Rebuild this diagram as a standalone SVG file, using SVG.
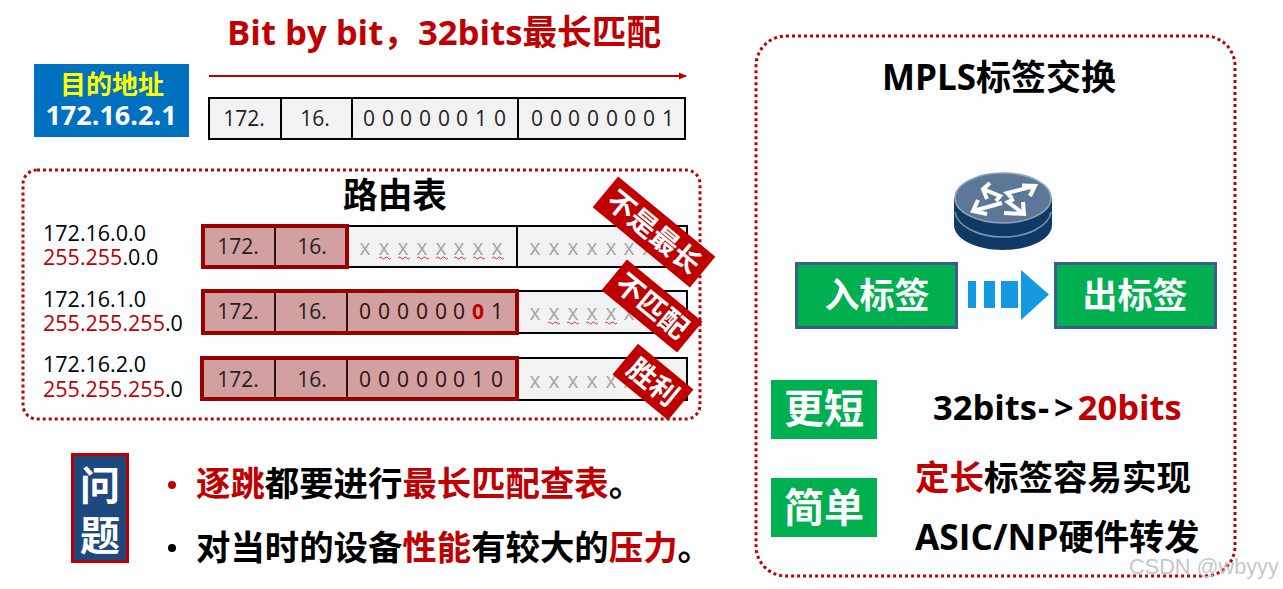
<svg xmlns="http://www.w3.org/2000/svg" width="1283" height="589" viewBox="0 0 1283 589">
<style>
text{font-family:"Open Sans","Noto Sans CJK SC",sans-serif;fill:#000}
.b{font-weight:700}.r{fill:#C00000}.w{fill:#fff}.m{text-anchor:middle}
.cell{font-size:21px;fill:#222;text-anchor:middle}
.hit{font-size:21px;fill:#2e0f0f;text-anchor:middle}
.x{font-size:21px;fill:#A6A6A6;text-anchor:middle}
.ip{font-size:21.500px}
.c{fill:#F2F2F2;stroke:#000;stroke-width:2}
.h{fill:#D2A0A0;stroke:#2e0f0f;stroke-width:2}
.hb{fill:none;stroke:#990000;stroke-width:4}
.panel{fill:#FCFDFF;stroke:#C00000;stroke-width:3;stroke-dasharray:3 3}
.tag{fill:#C00000}
.sq{fill:none;stroke:#E03030;stroke-width:1}
.lab{fill:#00B050;stroke:#3B5E8C;stroke-width:3}
.g{fill:#00B050}
</style>
<defs>
<marker id="ah" markerWidth="8" markerHeight="8" refX="7" refY="4" orient="auto" markerUnits="userSpaceOnUse"><path d="M0 0.500L8 4L0 7.500z" fill="#C00000"/></marker>
<path id="sq" class="sq" d="M0 0q1.500 -2 3 0t3 0t3 0t3 0"/>
</defs>
<rect width="1283" height="589" fill="#fff"/>

<g id="title"><text class="b r" x="227" y="45" font-size="34.700">Bit by bit，32bits最长匹配</text></g>

<g id="dest">
<rect x="34" y="64" width="155" height="73" fill="#0070C0"/>
<text class="b m" x="112" y="94" font-size="26" style="fill:#FFFF00">目的地址</text>
<text class="b m w" x="111" y="125" font-size="27">172.16.2.1</text>
</g>

<g id="connectors">
<line x1="209" y1="76" x2="686" y2="76" stroke="#C00000" stroke-width="2" marker-end="url(#ah)"/>
</g>

<g id="address-bits">
<rect class="c" x="209" y="98" width="72" height="41"/><rect class="c" x="281" y="98" width="71" height="41"/><rect class="c" x="352" y="98" width="166" height="41"/><rect class="c" x="518" y="98" width="167" height="41"/>
<text class="cell" x="244" y="126">172.</text><text class="cell" x="315" y="126">16.</text>
<text class="cell" x="369 388 406 425 444 462 481 500" y="126">00000010</text>
<text class="cell" x="537 556 574 593 612 630 649 668" y="126">00000001</text>
</g>

<g id="routing-table">
<rect class="panel" x="23" y="170" width="677" height="249" rx="14"/>
<text class="b m" x="395" y="208" font-size="34.700">路由表</text>
<g id="route-1">
<text class="ip" x="43" y="241">172.16.0.0</text>
<text class="ip" x="43" y="265"><tspan class="r">255.255</tspan>.0.0</text>
<rect class="c" x="347" y="226" width="170" height="41"/><rect class="c" x="517" y="226" width="170" height="41"/>
<rect class="h" x="203" y="226" width="72" height="41"/><rect class="h" x="275" y="226" width="72" height="41"/>
<rect class="hb" x="203" y="226" width="144" height="41"/>
<text class="cell" x="238" y="254">172.</text><text class="cell" x="312" y="254">16.</text>
<text class="x" x="365 384 403 422 441 459 478 497" y="255">xxxxxxxx</text>
<text class="x" x="535 554 573 592 611 629 648 667" y="255">xxxxxxxx</text>
<use href="#sq" x="379" y="258"/><use href="#sq" x="398" y="258"/><use href="#sq" x="417" y="258"/><use href="#sq" x="436" y="258"/><use href="#sq" x="454" y="258"/><use href="#sq" x="473" y="258"/><use href="#sq" x="492" y="258"/>
</g>
<g id="route-2">
<text class="ip" x="43" y="307">172.16.1.0</text>
<text class="ip" x="43" y="331"><tspan class="r">255.255.255</tspan>.0</text>
<rect class="c" x="517" y="291" width="170" height="42"/>
<rect class="h" x="203" y="291" width="72" height="42"/><rect class="h" x="275" y="291" width="72" height="42"/><rect class="h" x="347" y="291" width="170" height="42"/>
<rect class="hb" x="203" y="291" width="314" height="42"/>
<text class="cell" x="238" y="319">172.</text><text class="cell" x="312" y="319">16.</text>
<text class="hit" x="365 384 403 422 441 459" y="319">000000</text>
<text class="b m r" x="478" y="319" font-size="21">0</text>
<text class="hit" x="497" y="319">1</text>
<text class="x" x="535 554 573 592 611 629" y="320">xxxxxx</text>
<use href="#sq" x="548" y="323"/><use href="#sq" x="567" y="323"/><use href="#sq" x="586" y="323"/><use href="#sq" x="605" y="323"/>
</g>
<g id="route-3">
<text class="ip" x="43" y="372">172.16.2.0</text>
<text class="ip" x="43" y="397"><tspan class="r">255.255.255</tspan>.0</text>
<rect class="c" x="517" y="358" width="170" height="42"/>
<rect class="h" x="202" y="358" width="73" height="42"/><rect class="h" x="275" y="358" width="72" height="42"/><rect class="h" x="347" y="358" width="170" height="42"/>
<rect class="hb" x="202" y="358" width="315" height="41"/>
<text class="cell" x="238" y="387">172.</text><text class="cell" x="312" y="387">16.</text>
<text class="hit" x="365 384 403 422 441 459 478 497" y="387">00000010</text>
<text class="x" x="535 554 573 592 611 629" y="388">xxxxxx</text>
</g>
<g id="tag-1" transform="translate(654 232) rotate(39.500)"><rect class="tag" x="-63" y="-20" width="126" height="40"/><text class="b m w" x="0" y="10" font-size="28">不是最长</text></g>
<g id="tag-2" transform="translate(652 306) rotate(39.500)"><rect class="tag" x="-49" y="-20" width="98" height="40"/><text class="b m w" x="0" y="10" font-size="28">不匹配</text></g>
<g id="tag-3" transform="translate(653 382) rotate(39.500)"><rect class="tag" x="-36" y="-20" width="72" height="40"/><text class="b m w" x="0" y="10" font-size="28">胜利</text></g>
</g>

<g id="problem">
<rect x="72.500" y="454.500" width="55" height="107" fill="#1F497D" stroke="#C00000" stroke-width="3"/>
<text class="b m w" x="100" y="500" font-size="40">问</text>
<text class="b m w" x="100" y="550" font-size="40">题</text>
<circle cx="172" cy="485" r="4" fill="#C00000"/>
<circle cx="172" cy="548" r="4" fill="#000"/>
<text class="b" x="196" y="496" font-size="34.400"><tspan class="r">逐跳</tspan>都要进行<tspan class="r">最长匹配查表</tspan>。</text>
<text class="b" x="196" y="560" font-size="34.400">对当时的设备<tspan class="r">性能</tspan>有较大的<tspan class="r">压力</tspan>。</text>
</g>

<g id="mpls">
<rect class="panel" x="756" y="36" width="479" height="540" rx="30"/>
<text class="b m" x="999" y="90" font-size="35">MPLS标签交换</text>
<g id="router">
<path d="M954 198V225C954 239 976 250 1003 250S1052 239 1052 225V198z" fill="#0F3A66"/>
<path d="M955 212C957 226 978 237 1003 237S1049 226 1051 212" fill="none" stroke="#7E96B0" stroke-width="1.500"/>
<ellipse cx="1003" cy="198" rx="48" ry="25" fill="#5C7797" stroke="#8FA5BC" stroke-width="1.500"/>
<g fill="none" stroke="#fff" stroke-width="4">
<path d="M1022 185.500L1035 186L1030 196M1035 186L1007 193L1012 198"/>
<path d="M990 183L983 189L987 199M983 189L1000 196L996 201"/>
<path d="M978 200L973 211L987 214M973 211L1002 203"/>
<path d="M1023 202L1024 214L1004 213M1024 214L1008 202L1014 199"/>
</g>
</g>
<g id="in-label"><rect class="lab" x="796.500" y="263.500" width="160" height="64"/><text class="b m w" x="877" y="308" font-size="35">入标签</text></g>
<g id="flow-arrow" fill="#1599E0"><rect x="968" y="281" width="8" height="27"/><rect x="984" y="281" width="11" height="27"/><rect x="1001" y="281" width="17" height="27"/><path d="M1021 270L1049 294.500L1021 320z"/></g>
<g id="out-label"><rect class="lab" x="1055.500" y="263.500" width="160" height="64"/><text class="b m w" x="1135" y="308" font-size="35">出标签</text></g>
<g id="shorter"><rect class="g" x="771" y="380" width="106" height="59"/><text class="b m w" x="824" y="423" font-size="40">更短</text></g>
<text class="b" x="933" y="420" font-size="34.500">32bits<tspan dx="1">-</tspan><tspan dx="5">&gt;</tspan><tspan class="r" dx="4">20bits</tspan></text>
<g id="simple"><rect class="g" x="771" y="478" width="106" height="59"/><text class="b m w" x="824" y="522" font-size="40">简单</text></g>
<text class="b" x="915" y="490" font-size="34.500"><tspan class="r">定长</tspan>标签容易实现</text>
<text class="b" x="915" y="550" font-size="35.300">ASIC/NP硬件转发</text>
</g>

<text x="1129" y="574" font-size="21.700" style="fill:#BDBDBD;font-family:'Liberation Sans',sans-serif" fill-opacity="0.85">CSDN @wbyyy</text>
</svg>
